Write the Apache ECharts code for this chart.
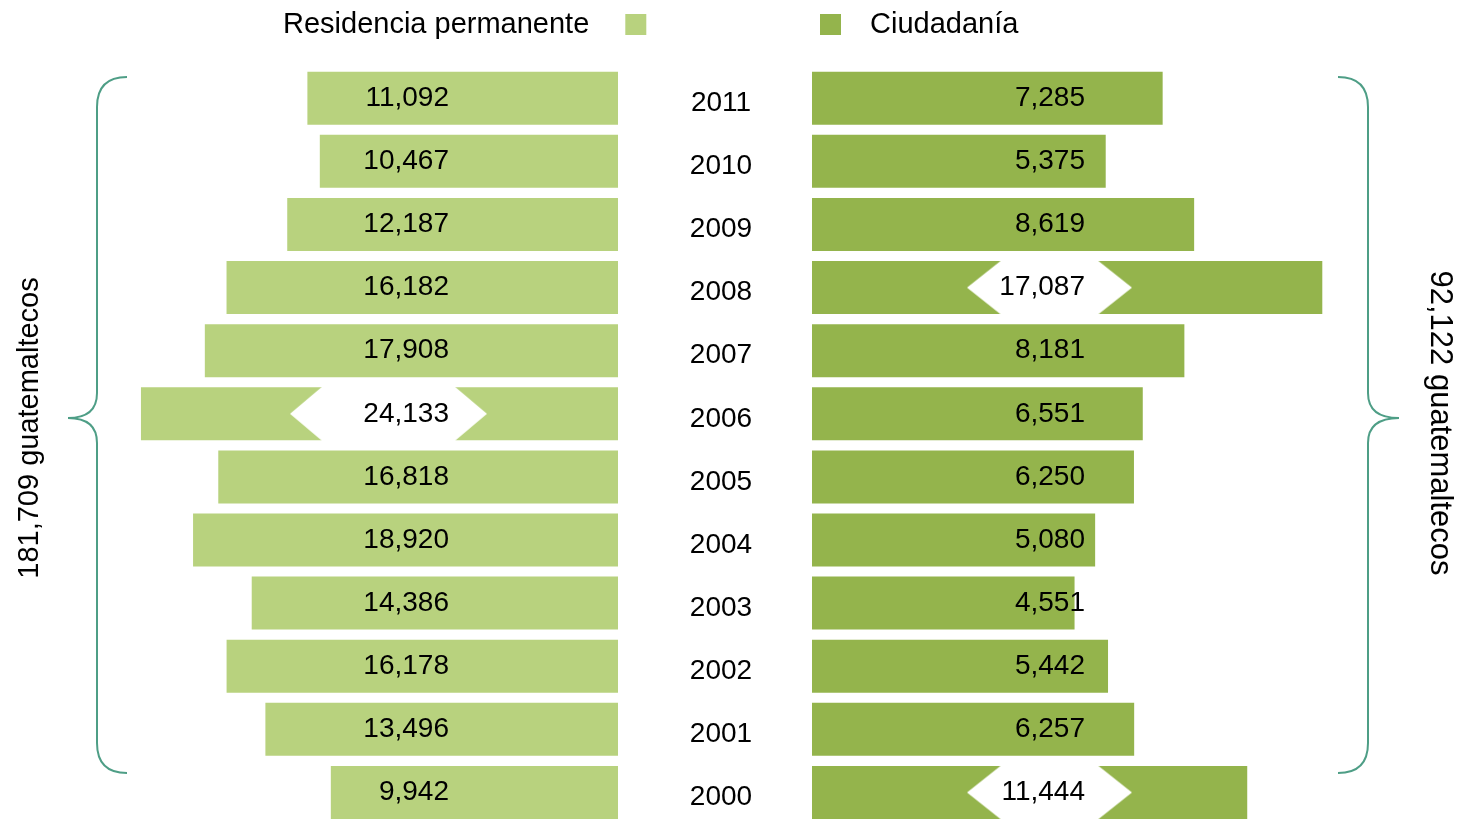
<!DOCTYPE html>
<html>
<head>
<meta charset="utf-8">
<script src="https://cdn.jsdelivr.net/npm/echarts@6/dist/echarts.min.js"></script>
<style>
  html, body { margin: 0; background: #fff; }
  #chart { width: 1461px; height: 824px; }
</style>
</head>
<body>
<div id="chart"></div>
<script>
// años, de arriba abajo
const years = ['2011', '2010', '2009', '2008', '2007', '2006', '2005', '2004', '2003', '2002', '2001', '2000']
// residencia permanente
const residencia = [11092, 10467, 12187, 16182, 17908, 24133, 16818, 18920, 14386, 16178, 13496, 9942]
// ciudadanía
const ciudadania = [7285, 5375, 8619, 17087, 8181, 6551, 6250, 5080, 4551, 5442, 6257, 11444]
// barras dibujadas con corte
const cortesRes = ['2006']
const cortesCiu = ['2008', '2000']
const totales = ['181,709 guatemaltecos', '92,122 guatemaltecos']

const FONT = '"Liberation Sans", Arial, Helvetica, sans-serif'
const claro = '#b8d27e'
const oscuro = '#94b44c'
const llave = '#4e9e86'

// hexágono blanco para el corte
const hexagono = (w, h, inset) => {
  const c = document.createElement('canvas')
  c.width = w
  c.height = h
  const ctx = c.getContext('2d')
  ctx.fillStyle = '#fff'
  ctx.beginPath()
  ctx.moveTo(0, h / 2)
  ctx.lineTo(inset, 0)
  ctx.lineTo(w - inset, 0)
  ctx.lineTo(w, h / 2)
  ctx.lineTo(w - inset, h)
  ctx.lineTo(inset, h)
  ctx.closePath()
  ctx.fill()
  return c
}
const hexIzq = hexagono(197, 54, 32)
const hexDer = hexagono(165, 54, 34)

const fmt = v => v.toLocaleString('en-US')

const dataRes = residencia.map((v, i) => cortesRes.includes(years[i]) ? {
  value: v,
  label: {
    offset: [-131, 0],
    width: 159,
    height: 54,
    lineHeight: 54,
    padding: [0, 38, 0, 0],
    backgroundColor: { image: hexIzq }
  }
} : v)

const dataCiu = ciudadania.map((v, i) => cortesCiu.includes(years[i]) ? {
  value: v,
  label: {
    position: [320, '50%'],
    width: 118,
    height: 54,
    lineHeight: 54,
    padding: [0, 47, 0, 0],
    backgroundColor: { image: hexDer }
  }
} : v)

const labelBase = {
  show: true,
  align: 'right',
  verticalAlign: 'middle',
  fontSize: 28,
  fontFamily: FONT,
  color: '#000',
  formatter: p => fmt(p.value)
}

// llave: x del borde, x de la punta, sentido
const llaveGraf = (xb, xp, s) => {
  const st = { fill: 'none', stroke: llave, lineWidth: 2 }
  const xe = xb + s * 30
  const curva = (x1, y1, cx, cy, x2, y2) => ({ type: 'bezierCurve', shape: { x1, y1, cpx1: cx, cpy1: cy, x2, y2 }, style: st })
  const linea = (x1, y1, x2, y2) => ({ type: 'line', shape: { x1, y1, x2, y2 }, style: st })
  return [
    curva(xe, 77, xb, 77, xb, 107),
    linea(xb, 107, xb, 393),
    curva(xb, 393, xb, 418, xp, 418),
    curva(xp, 418, xb, 418, xb, 443),
    linea(xb, 443, xb, 743),
    curva(xb, 743, xb, 773, xe, 773)
  ]
}

const gridTop = 66.7
const gridHeight = 762.6

const chart = echarts.init(document.getElementById('chart'))

const option = {
  animation: false,
  textStyle: { fontFamily: FONT },
  legend: [
    {
      data: ['Residencia permanente'],
      left: 278,
      top: 5,
      align: 'right',
      itemWidth: 21,
      itemHeight: 21,
      icon: 'rect',
      textStyle: { fontSize: 29, color: '#000', fontFamily: FONT, padding: [0, 31, 0, 0] }
    },
    {
      data: ['Ciudadanía'],
      left: 815,
      top: 5,
      align: 'left',
      itemWidth: 21,
      itemHeight: 21,
      icon: 'rect',
      textStyle: { fontSize: 29, color: '#000', fontFamily: FONT, padding: [0, 0, 0, 24] }
    }
  ],
  grid: [
    { left: 125, width: 493, top: gridTop, height: gridHeight },
    { left: 812, width: 561, top: gridTop, height: gridHeight }
  ],
  xAxis: [
    { gridIndex: 0, type: 'log', inverse: true, min: 2600, max: 26000, show: false },
    { gridIndex: 1, type: 'log', min: 1120, max: 22400, show: false }
  ],
  yAxis: [
    { gridIndex: 0, type: 'category', inverse: true, data: years, show: false },
    {
      gridIndex: 1,
      type: 'category',
      inverse: true,
      data: years,
      axisLine: { show: false },
      axisTick: { show: false },
      axisLabel: {
        margin: 91,
        align: 'center',
        verticalAlign: 'top',
        lineHeight: 10,
        fontSize: 28,
        fontFamily: FONT,
        color: '#000'
      }
    }
  ],
  series: [
    {
      name: 'Residencia permanente',
      type: 'bar',
      xAxisIndex: 0,
      yAxisIndex: 0,
      barWidth: 53,
      clip: true,
      itemStyle: { color: claro },
      label: { ...labelBase, position: ['100%', '50%'], offset: [-169, 0] },
      data: dataRes
    },
    {
      name: 'Ciudadanía',
      type: 'bar',
      xAxisIndex: 1,
      yAxisIndex: 1,
      barWidth: 53,
      clip: true,
      itemStyle: { color: oscuro },
      label: { ...labelBase, position: [273, '50%'] },
      data: dataCiu
    }
  ],
  graphic: [
    ...llaveGraf(97, 68, 1),
    ...llaveGraf(1368, 1399, -1),
    {
      type: 'text',
      x: 30,
      y: 428,
      rotation: Math.PI / 2,
      style: { text: totales[0], fontSize: 29, fontFamily: FONT, fill: '#000', align: 'center', verticalAlign: 'middle' }
    },
    {
      type: 'text',
      x: 1440,
      y: 423,
      rotation: -Math.PI / 2,
      style: { text: totales[1], fontSize: 31, fontFamily: FONT, fill: '#000', align: 'center', verticalAlign: 'middle' }
    }
  ]
}

chart.setOption(option)
</script>
</body>
</html>
